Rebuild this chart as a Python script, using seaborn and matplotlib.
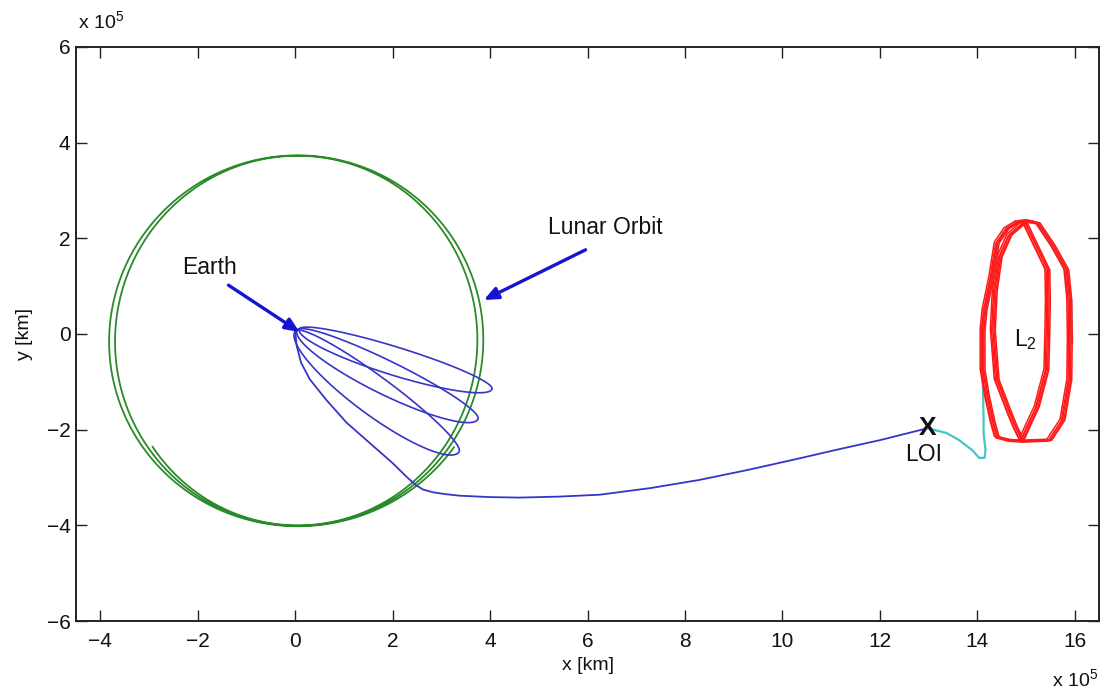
import numpy as np
import pandas as pd
import matplotlib
matplotlib.use("Agg")
import matplotlib.pyplot as plt
import seaborn as sns

# All positions are in units of 1e5 km (Sun-Earth rotating frame, Earth at origin)

# Lunar orbit: drawn for ~2.3 revolutions, slowly growing in x-radius
moon_center = (0.05, -0.14)
moon_theta_deg = (215.0, 1045.0)
moon_rx = (3.64, 3.92)
moon_ry = (3.86, 3.88)

# Phasing loops around Earth: perigee point, apogee point, half-widths
loop_perigee_x = [0.08, 0.04, 0.00]
loop_perigee_y = [0.10, 0.08, 0.06]
loop_apogee_x = [4.04, 3.75, 3.36]
loop_apogee_y = [-1.15, -1.78, -2.47]
loop_halfwidth_upper = [0.25, 0.28, 0.30]
loop_halfwidth_lower = [0.34, 0.42, 0.50]

# Final outbound leg from Earth to lunar orbit insertion (LOI)
transfer_x = [0.00, 0.03, 0.12, 0.30, 0.64, 1.05, 1.53, 2.00, 2.30, 2.48, 2.62, 2.83,
              3.10, 3.37, 4.00, 4.60, 5.40, 6.25, 7.30, 8.30, 9.30, 10.35, 11.20,
              12.00, 12.98]
transfer_y = [0.05, -0.25, -0.60, -0.95, -1.38, -1.85, -2.28, -2.70, -3.00, -3.16,
              -3.25, -3.31, -3.35, -3.38, -3.41, -3.42, -3.40, -3.36, -3.22, -3.05,
              -2.84, -2.60, -2.40, -2.22, -1.97]

# Insertion arc from LOI into the L2 orbit (first revolution)
insert_x = [12.98, 13.37, 13.63, 13.90, 14.04, 14.15, 14.17, 14.13, 14.13, 14.11,
            14.11, 14.15, 14.29, 14.40, 14.60, 14.83, 15.24, 15.55, 15.83, 15.93, 15.95]
insert_y = [-1.97, -2.07, -2.22, -2.43, -2.59, -2.59, -2.43, -2.07, -1.74, -0.82,
            0.08, 0.50, 1.19, 1.90, 2.20, 2.34, 2.32, 1.85, 1.34, 0.71, -0.19]

# L2 orbit: outer and inner lobes of the Lissajous path
outer_x = [14.83, 15.04, 15.24, 15.55, 15.83, 15.89, 15.90, 15.89, 15.75, 15.48,
           14.93, 14.66, 14.40, 14.32, 14.20, 14.11, 14.11, 14.15, 14.29, 14.40, 14.60, 14.83]
outer_y = [2.34, 2.37, 2.32, 1.85, 1.34, 0.71, -0.10, -0.96, -1.80, -2.22,
           -2.24, -2.22, -2.15, -1.86, -1.30, -0.75, 0.08, 0.50, 1.19, 1.90, 2.20, 2.34]
inner_x = [14.97, 15.20, 15.44, 15.45, 15.44, 15.42, 15.22, 15.05, 14.91, 14.78,
           14.66, 14.40, 14.32, 14.36, 14.46, 14.66, 14.97]
inner_y = [2.34, 1.85, 1.34, 0.70, 0.08, -0.75, -1.53, -1.90, -2.22, -1.95,
           -1.65, -0.96, 0.08, 0.90, 1.61, 2.07, 2.34]
l2_rev_dx = [-0.05, -0.025, 0.00, 0.025, 0.05]
l2_rev_dy = [0.02, -0.02, 0.01, -0.01, 0.00]

x_ticks = [-4, -2, 0, 2, 4, 6, 8, 10, 12, 14, 16]
y_ticks = [-6, -4, -2, 0, 2, 4, 6]

loi_point = (12.98, -1.97)

BLUE = "#3535c8"
GREEN = "#2a8a2a"
RED = "#ff1a1a"
CYAN = "#45c6c6"
ARROW_BLUE = "#1414d2"
INK = "#111111"

sns.set_theme(style="ticks")
plt.rcParams["font.family"] = ["Liberation Sans", "DejaVu Sans"]
plt.rcParams["mathtext.fontset"] = "custom"
plt.rcParams["mathtext.rm"] = "Liberation Sans"
plt.rcParams["mathtext.it"] = "Liberation Sans"

fig = plt.figure(figsize=(11.1, 6.92), dpi=100)
ax = fig.add_axes([0.0685, 0.1026, 0.9216, 0.8295])


def draw(xs, ys, color, lw):
    df = pd.DataFrame({"x": xs, "y": ys})
    sns.lineplot(data=df, x="x", y="y", sort=False, estimator=None, color=color,
                 lw=lw, ax=ax, legend=False, solid_joinstyle="round",
                 solid_capstyle="round")


# Lunar orbit
th = np.deg2rad(np.linspace(moon_theta_deg[0], moon_theta_deg[1], 900))
frac = (th - th[0]) / (th[-1] - th[0])
rx = moon_rx[0] + (moon_rx[1] - moon_rx[0]) * frac
ry = moon_ry[0] + (moon_ry[1] - moon_ry[0]) * frac
draw(moon_center[0] + rx * np.cos(th), moon_center[1] + ry * np.sin(th), GREEN, 1.3)

# Phasing loops: ellipses with one vertex at perigee and the other at apogee
t = np.linspace(0, 2 * np.pi, 400)
for px, py, qx, qy, hu, hl in zip(loop_perigee_x, loop_perigee_y, loop_apogee_x,
                                  loop_apogee_y, loop_halfwidth_upper,
                                  loop_halfwidth_lower):
    dx, dy = qx - px, qy - py
    length = np.hypot(dx, dy)
    ux, uy = dx / length, dy / length
    u = (1 - np.cos(t)) / 2 * length
    v = np.where(t <= np.pi, hu, hl) * np.sin(t)
    draw(px + u * ux - v * uy, py + u * uy + v * ux, BLUE, 1.2)

# Outbound transfer
draw(transfer_x, transfer_y, BLUE, 1.3)

# Insertion arc into the L2 orbit
draw(insert_x, insert_y, CYAN, 1.6)

# L2 orbit revolutions
for ddx, ddy in zip(l2_rev_dx, l2_rev_dy):
    draw(np.array(outer_x) + ddx, np.array(outer_y) + ddy, RED, 1.1)
    draw(np.array(inner_x) + ddx, np.array(inner_y) + ddy, RED, 1.1)

# Annotations
arrow_kw = dict(arrowstyle="-|>,head_length=0.7,head_width=0.3", color=ARROW_BLUE,
                lw=2.4, shrinkA=0, shrinkB=0)
ax.annotate("", xy=(0.09, 0.04), xytext=(-1.37, 1.02), arrowprops=arrow_kw)
ax.annotate("", xy=(3.87, 0.71), xytext=(5.96, 1.76), arrowprops=arrow_kw)
ax.text(-1.76, 1.38, "Earth", fontsize=16.5, ha="center", va="center", color=INK)
ax.text(6.37, 2.22, "Lunar Orbit", fontsize=16.5, ha="center", va="center", color=INK)
ax.text(loi_point[0], loi_point[1], "X", fontsize=19, fontweight="bold",
        ha="center", va="center", color=INK)
ax.text(12.9, -2.52, "LOI", fontsize=16.5, ha="center", va="center", color=INK)
ax.text(15.0, -0.12, r"L$_2$", fontsize=16.5, ha="center", va="center", color=INK)

# Axes styling
ax.set_xlim(-4.5, 16.5)
ax.set_ylim(-6, 6)
ax.set_xticks(x_ticks)
ax.set_yticks(y_ticks)
ax.set_xticklabels([f"{v}".replace("-", "\u2212") for v in x_ticks])
ax.set_yticklabels([f"{v}".replace("-", "\u2212") for v in y_ticks])
ax.tick_params(direction="in", length=8, width=1.0, labelsize=15, color="#222222",
               top=True, right=True, labelcolor=INK)
ax.tick_params(axis="x", pad=8)
ax.tick_params(axis="y", pad=4)
for sp in ax.spines.values():
    sp.set_visible(True)
    sp.set_linewidth(1.4)
    sp.set_color("#222222")
ax.set_xlabel("x [km]", fontsize=14, color=INK)
ax.set_ylabel("y [km]", fontsize=14, color=INK)
ax.xaxis.set_label_coords(0.5, -0.063)
ax.yaxis.set_label_coords(-0.042, 0.5)
ax.grid(False)

fig.text(78 / 1110, 1 - 32 / 692, r"x 10$^5$", fontsize=14, ha="left", va="bottom",
         color=INK)
fig.text(1098 / 1110, 1 - 690 / 692, r"x 10$^5$", fontsize=14, ha="right", va="bottom",
         color=INK)

fig.savefig("out.png", dpi=100, facecolor="white")
